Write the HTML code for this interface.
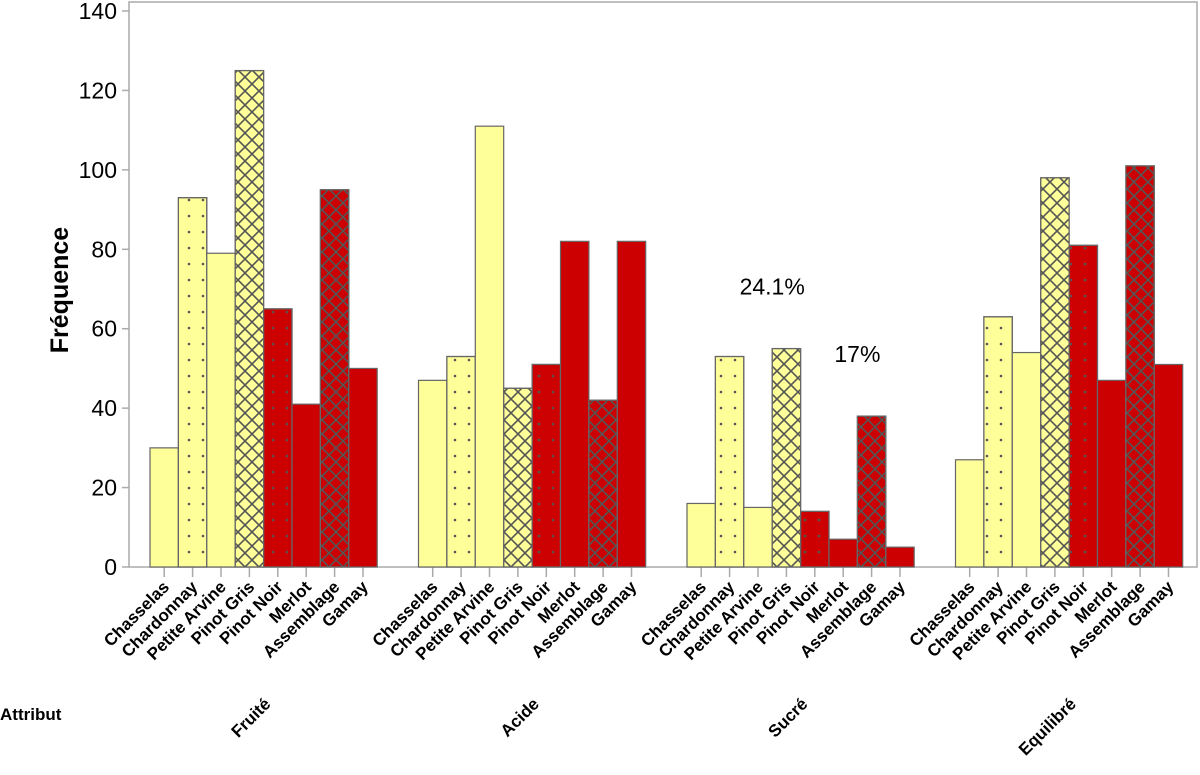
<!DOCTYPE html>
<html><head><meta charset="utf-8"><style>body{margin:0;background:#fff}svg{display:block;font-family:"Liberation Sans",sans-serif}</style></head>
<body>
<svg id="c" width="1200" height="775">
<defs>
<pattern id="dots" width="14" height="16" patternUnits="userSpaceOnUse"><circle cx="7" cy="8" r="1.3" fill="#555"/></pattern>
<pattern id="hatch" width="14" height="14" patternUnits="userSpaceOnUse"><path d="M0,0L14,14M14,0L0,14" stroke="#555" stroke-width="1.6"/></pattern>
</defs>
<rect x="129" y="2" width="1068" height="565" fill="none" stroke="#aaa" stroke-width="1.5"/>
<text x="68" y="290" transform="rotate(-90 68 290)" text-anchor="middle" font-size="25" font-weight="bold">Fréquence</text>
<text x="0" y="720" font-size="17" font-weight="bold">Attribut</text>
<g id="ax"></g><g id="bars"></g>
</svg>
<script>
const groups=["Fruité","Acide","Sucré","Equilibré"];
const varieties=["Chasselas","Chardonnay","Petite Arvine","Pinot Gris","Pinot Noir","Merlot","Assemblage","Gamay"];
const fruite=[30,93,79,125,65,41,95,50];
const acide=[47,53,111,45,51,82,42,82];
const sucre=[16,53,15,55,14,7,38,5];
const equilibre=[27,63,54,98,81,47,101,51];
const yTicks=[0,20,40,60,80,100,120,140];
const annotations=[{g:2,v:3,text:"24.1%"},{g:2,v:6,text:"17%"}];
const series=[fruite,acide,sucre,equilibre];
const NS="http://www.w3.org/2000/svg";
const y=v=>567-v*(556/140);
const bw=28.4;
const x=(g,i)=>150+g*268.5+i*bw;
const fills=["#FFFF99","#FFFF99","#FFFF99","#FFFF99","#CC0000","#CC0000","#CC0000","#CC0000"];
const pats=[null,"dots",null,"hatch","dots",null,"hatch",null];
function el(t,a,p){const e=document.createElementNS(NS,t);for(const k in a)e.setAttribute(k,a[k]);p.appendChild(e);return e;}
const ax=document.getElementById('ax'),bars=document.getElementById('bars'),svg=document.getElementById('c');
yTicks.forEach(t=>{
  const l=el('line',{x1:122,x2:129,y1:y(t),y2:y(t),stroke:'#aaa','stroke-width':1.5},ax);
  
  
  const tx=el('text',{x:117,y:y(t)+8,'text-anchor':'end','font-size':23},ax);
  tx.textContent=t;
  
  
});
series.forEach((s,g)=>{
  s.forEach((v,i)=>{
    const bx=x(g,i);
    const r=el('rect',{x:bx,y:y(v),width:bw,height:567-y(v),fill:fills[i],stroke:'#666','stroke-width':1.2},bars);
    
    
    if(pats[i]){const p=el('rect',{x:bx,y:y(v),width:bw,height:567-y(v),fill:'url(#'+pats[i]+')',stroke:'#666','stroke-width':1.2},bars);
      
      }
    const cx=bx+bw/2;
    const tk=el('line',{x1:cx,x2:cx,y1:567,y2:577,stroke:'#aaa','stroke-width':1.5},ax);
    
    
    const lb=el('text',{x:cx+6,y:588,'text-anchor':'end','font-size':17,'font-weight':'bold',transform:`rotate(-45 ${cx+6} 588)`},ax);
    lb.textContent=varieties[i];
    
    
  });
  const gx=x(g,4)+8;
  const gl=el('text',{x:gx,y:705,'text-anchor':'end','font-size':17,'font-weight':'bold',transform:`rotate(-45 ${gx} 705)`},ax);
  gl.textContent=groups[g];
  
  
});
annotations.forEach(a=>{
  const v=series[a.g][a.v];
  const t=el('text',{x:x(a.g,a.v),y:y(v)-54,'text-anchor':'middle','font-size':23},svg);
  t.textContent=a.text;
  
  
});
</script>
</body></html>
